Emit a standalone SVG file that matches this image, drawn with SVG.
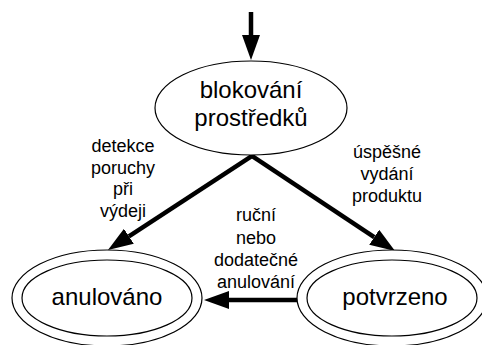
<svg xmlns="http://www.w3.org/2000/svg" width="482" height="345" viewBox="0 0 482 345">
  <style>
    .node { fill: #fff; stroke: #000; stroke-width: 1.2; }
    .name { font-family: "Liberation Sans", Arial, sans-serif; font-size: 24px; text-anchor: middle; fill: #000; }
    .lbl { font-family: "Liberation Sans", Arial, sans-serif; font-size: 18px; text-anchor: middle; fill: #000; }
    .edge { stroke: #000; stroke-width: 4.5; fill: none; marker-end: url(#head); }
  </style>
  <defs>
    <marker id="head" viewBox="0 0 25 18" markerWidth="25" markerHeight="18" refX="0" refY="9" orient="auto" markerUnits="userSpaceOnUse">
      <path d="M0,0 L25,9 L0,18 z" fill="#000"/>
    </marker>
  </defs>
  <rect width="482" height="345" fill="#fff"/>

  <!-- connectors -->
  <g id="edges">
    <line class="edge" x1="251" y1="12" x2="251" y2="35"/>
    <line class="edge" x1="254" y1="154.7" x2="128.9" y2="236.3"/>
    <line class="edge" x1="250" y1="154.7" x2="374.2" y2="237.2"/>
    <line class="edge" x1="297" y1="300" x2="229" y2="300"/>
  </g>

  <!-- edge labels -->
  <g id="edge-labels">
    <text class="lbl" x="123" y="152">detekce</text>
    <text class="lbl" x="123" y="173.5">poruchy</text>
    <text class="lbl" x="123" y="195">při</text>
    <text class="lbl" x="123" y="216.5">výdeji</text>
    <text class="lbl" x="387" y="158">úspěšné</text>
    <text class="lbl" x="387" y="180">vydání</text>
    <text class="lbl" x="387" y="202">produktu</text>
    <text class="lbl" x="256" y="221">ruční</text>
    <text class="lbl" x="256" y="243.5">nebo</text>
    <text class="lbl" x="256" y="266">dodatečné</text>
    <text class="lbl" x="256" y="288">anulování</text>
  </g>

  <g id="blokovani">
    <ellipse class="node" cx="251" cy="108" rx="96" ry="47"/>
    <text class="name" x="251" y="98">blokování</text>
    <text class="name" x="251" y="126">prostředků</text>
  </g>

  <g id="anulovano">
    <ellipse class="node" cx="107" cy="298" rx="95" ry="48"/>
    <ellipse class="node" cx="107" cy="298" rx="85" ry="38"/>
    <text class="name" x="107" y="305">anulováno</text>
  </g>

  <g id="potvrzeno">
    <ellipse class="node" cx="392" cy="298" rx="95" ry="48"/>
    <ellipse class="node" cx="392" cy="298" rx="85" ry="38"/>
    <text class="name" x="395" y="305">potvrzeno</text>
  </g>
</svg>
